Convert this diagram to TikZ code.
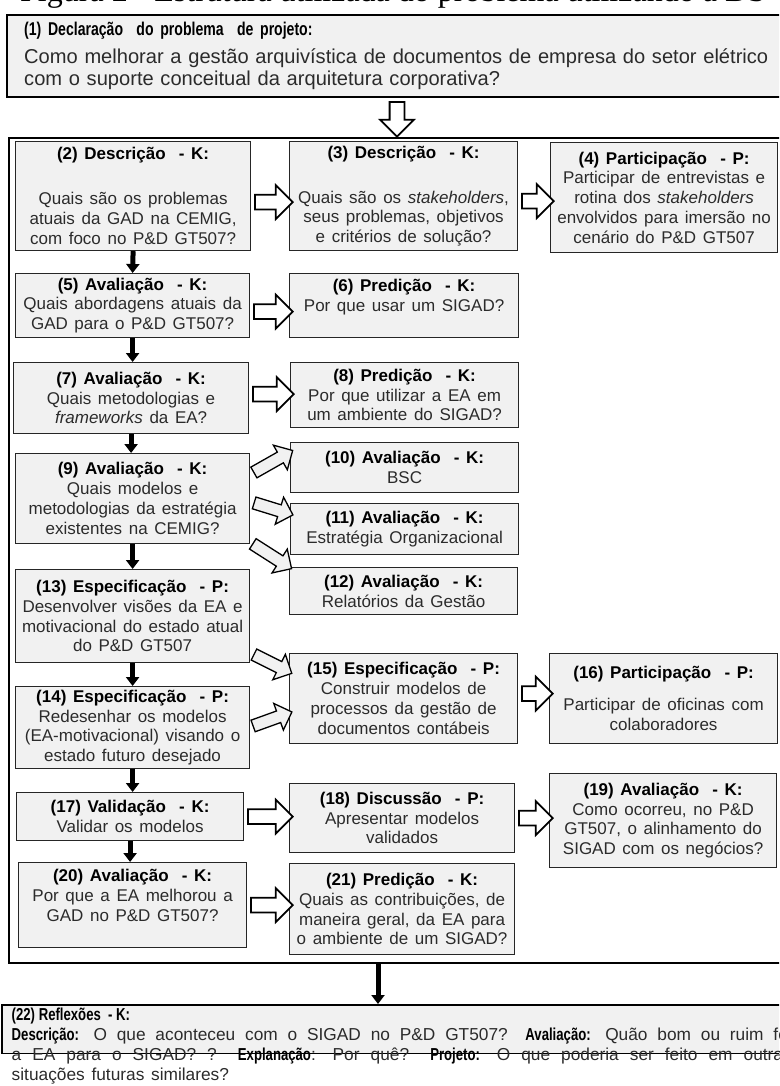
\documentclass[tikz,border=0pt]{standalone}
\usepackage{fontspec}
\setmainfont{Liberation Sans}[WordSpace=1.4]
\newfontfamily\narrowsans{Liberation Sans}[FakeStretch=0.76]
\newfontfamily\captionserif{Liberation Serif}
\usetikzlibrary{shapes.arrows,arrows.meta,calc}

\definecolor{boxfill}{HTML}{F1F1F1}
\definecolor{bodytext}{HTML}{2B2B2B}

\newcommand{\steptitle}[1]{{\bfseries\color{black}#1}}
\newcommand{\narrowbold}[1]{{\narrowsans\bfseries\color{black}#1}}
\newcommand{\blockarrow}[3][]{%
  \path let \p1=#2, \p2=#3,
    \n1={atan2(\y2-\y1,\x2-\x1)}, \n2={veclen(\x2-\x1,\y2-\y1)} in
    node[hollowarrow,#1,rotate=\n1,minimum height=\n2] at ($#2!0.5!#3$) {};}

\tikzset{
  stepbox/.style={draw=black!85, line width=1.2pt, fill=boxfill, anchor=north west,
    align=center, inner xsep=2pt, inner ysep=2pt, text=bodytext,
    font=\fontsize{17pt}{19.8pt}\selectfont},
  bigbox/.style={draw=black, line width=2.4pt, fill=boxfill, anchor=north west,
    text=bodytext, font=\fontsize{20.1pt}{22pt}\selectfont},
  outerframe/.style={draw=black, line width=2.4pt, anchor=north west},
  hollowarrow/.style={single arrow, draw=black, line width=1.8pt, fill=white,
    inner sep=6.5pt, single arrow head extend=9.5pt, minimum width=0pt},
  diagarrow/.style={fill=boxfill, line width=1.3pt, inner sep=5.5pt,
    single arrow head extend=8pt},
  flowarrow/.style={line width=5pt, -{Triangle[length=9pt,width=13pt]}}
}

\begin{document}
\begin{tikzpicture}[x=1pt,y=-1pt]
\useasboundingbox (0,0) rectangle (779,1086);
\clip (0,0) rectangle (779,1086);

% caption, cut at the top
\node[anchor=base west, inner sep=0pt, font=\captionserif\fontsize{32pt}{32pt}\selectfont]
  (caption) at (20,2) {Figura 2 - Estrutura utilizada do problema utilizando a DS};

% problem statement
\node[bigbox, minimum width=800pt, minimum height=82pt, text width=766pt, align=left,
  inner xsep=17pt] (b1) at (6,14)
  {{\fontsize{18.5pt}{22pt}\selectfont\narrowbold{(1) Declaração~ do problema~ de projeto:}}\\[6pt]
   Como melhorar a gestão arquivística de documentos de empresa do setor elétrico\\
   com o suporte conceitual da arquitetura corporativa?};

\node[outerframe, minimum width=790pt, minimum height=825pt] (outer) at (8,137) {};

% first column
\node[stepbox, minimum width=235pt, minimum height=109pt] (b2) at (15,141)
  {\steptitle{(2) Descrição~ - K:}\\[25pt] Quais são os problemas\\ atuais da GAD na CEMIG,\\ com foco no P\&D GT507?};
\node[stepbox, minimum width=234pt, minimum height=64pt] (b5) at (15,273)
  {\steptitle{(5) Avaliação~ - K:}\\ Quais abordagens atuais da\\ GAD para o P\&D GT507?};
\node[stepbox, minimum width=235pt, minimum height=71pt] (b7) at (13,362)
  {\steptitle{(7) Avaliação~ - K:}\\ Quais metodologias e\\ \textit{frameworks} da EA?};
\node[stepbox, minimum width=234pt, minimum height=90pt] (b9) at (15,453)
  {\steptitle{(9) Avaliação~ - K:}\\ Quais modelos e\\ metodologias da estratégia\\ existentes na CEMIG?};
\node[stepbox, minimum width=234pt, minimum height=93pt] (b13) at (15,569)
  {\steptitle{(13) Especificação~ - P:}\\ Desenvolver visões da EA e\\ motivacional do estado atual\\ do P\&D GT507};
\node[stepbox, minimum width=234pt, minimum height=82pt] (b14) at (15,686)
  {\steptitle{(14) Especificação~ - P:}\\ Redesenhar os modelos\\ (EA-motivacional) visando o\\ estado futuro desejado};
\node[stepbox, minimum width=227pt, minimum height=48pt] (b17) at (16,792)
  {\steptitle{(17) Validação~ - K:}\\ Validar os modelos};
\node[stepbox, minimum width=228pt, minimum height=85pt] (b20) at (18,862)
  {\steptitle{(20) Avaliação~ - K:}\\ Por que a EA melhorou a\\ GAD no P\&D GT507?\\ \mbox{}};

% second column
\node[stepbox, minimum width=228pt, minimum height=109pt] (b3) at (289,141)
  {\steptitle{(3) Descrição~ - K:}\\[25pt] Quais são os \textit{stakeholders},\\ seus problemas, objetivos\\ e critérios de solução?};
\node[stepbox, minimum width=229pt, minimum height=64pt] (b6) at (289,273)
  {\steptitle{(6) Predição~ - K:}\\ Por que usar um SIGAD?\\ \mbox{}};
\node[stepbox, minimum width=228pt, minimum height=65pt] (b8) at (290,362)
  {\steptitle{(8) Predição~ - K:}\\ Por que utilizar a EA em\\ um ambiente do SIGAD?};
\node[stepbox, minimum width=228pt, minimum height=50pt] (b10) at (290,442)
  {\steptitle{(10) Avaliação~ - K:}\\ BSC};
\node[stepbox, minimum width=228pt, minimum height=51pt] (b11) at (290,503)
  {\steptitle{(11) Avaliação~ - K:}\\ Estratégia Organizacional};
\node[stepbox, minimum width=228pt, minimum height=47pt] (b12) at (289,567)
  {\steptitle{(12) Avaliação~ - K:}\\ Relatórios da Gestão};
\node[stepbox, minimum width=228pt, minimum height=90pt] (b15) at (289,653)
  {\steptitle{(15) Especificação~ - P:}\\ Construir modelos de\\ processos da gestão de\\ documentos contábeis};
\node[stepbox, minimum width=225pt, minimum height=69pt] (b18) at (289,783)
  {\steptitle{(18) Discussão~ - P:}\\ Apresentar modelos\\ validados};
\node[stepbox, minimum width=225pt, minimum height=91pt] (b21) at (289,863)
  {\steptitle{(21) Predição~ - K:}\\ Quais as contribuições, de\\ maneira geral, da EA para\\ o ambiente de um SIGAD?};

% third column
\node[stepbox, minimum width=227pt, minimum height=110pt] (b4) at (550,142)
  {\steptitle{(4) Participação~ - P:}\\ Participar de entrevistas e\\ rotina dos \textit{stakeholders}\\ envolvidos para imersão no\\ cenário do P\&D GT507};
\node[stepbox, minimum width=228pt, minimum height=90pt] (b16) at (549,653)
  {\steptitle{(16) Participação~ - P:}\\[12pt] Participar de oficinas com\\ colaboradores};
\node[stepbox, minimum width=227pt, minimum height=94pt] (b19) at (549,773)
  {\steptitle{(19) Avaliação~ - K:}\\ Como ocorreu, no P\&D\\ GT507, o alinhamento do\\ SIGAD com os negócios?};

% reflections
\node[bigbox, line width=1.5pt, minimum width=800pt, text width=780pt, align=justify,
  inner xsep=1.5pt, inner ysep=3pt, text depth=30pt,
  font=\fontsize{17.3pt}{20pt}\selectfont] (b22) at (1,1004)
  {\narrowbold{(22) Reflexões~ - K:}\\
   \narrowbold{Descrição:} O que aconteceu com o SIGAD no P\&D GT507? \narrowbold{Avaliação:} Quão bom ou ruim foi\linebreak
   a EA para o SIGAD? ? \narrowbold{Explanação}: Por quê? \narrowbold{Projeto:} O que poderia ser feito em outras\linebreak
   situações futuras similares?};

% arrow ends
\coordinate (mid) at (397,0);
\coordinate (a1) at (b1.south -| mid);
\coordinate (a1t) at ($(outer.north -| mid)+(0,-4)$);
\coordinate (a23) at ($(b2.east)+(0,6)$);
\coordinate (a23t) at (a23 -| b3.west);
\coordinate (a34) at ($(b3.east)+(0,5)$);
\coordinate (a34t) at (a34 -| b4.west);
\coordinate (a56) at ($(b5.east)+(0,6)$);
\coordinate (a56t) at (a56 -| b6.west);
\coordinate (a78) at ($(b7.east)+(0,-4)$);
\coordinate (a78t) at (a78 -| b8.west);
\coordinate (a910) at ($(b9.north east)+(1,21)$);
\coordinate (a910t) at ($(b10.north west)+(0,10)$);
\coordinate (a911) at ($(b9.north east)+(1,49)$);
\coordinate (a911t) at ($(b11.north west)+(0,11)$);
\coordinate (a912) at ($(b9.south east)+(0,-2)$);
\coordinate (a912t) at (b12.north west);
\coordinate (a1315) at ($(b13.south east)+(1,-10)$);
\coordinate (a1315t) at ($(b15.north west)+(0,19)$);
\coordinate (a1415) at ($(b14.north east)+(0,41)$);
\coordinate (a1415t) at ($(b15.north west)+(0,60)$);
\coordinate (a1516) at ($(b15.east)+(0,-5)$);
\coordinate (a1516t) at (a1516 -| b16.west);
\coordinate (a1718) at (b17.east);
\coordinate (a1718t) at (a1718 -| b18.west);
\coordinate (a1819) at (b18.east);
\coordinate (a1819t) at (a1819 -| b19.west);
\coordinate (a2021) at (b20.east);
\coordinate (a2021t) at (a2021 -| b21.west);
\coordinate (down) at (378,0);

% hollow arrows
\blockarrow{(a1)}{(a1t)}
\blockarrow{(a23)}{(a23t)}
\blockarrow{(a34)}{(a34t)}
\blockarrow{(a56)}{(a56t)}
\blockarrow{(a78)}{(a78t)}
\blockarrow[diagarrow]{(a910)}{(a910t)}
\blockarrow[diagarrow]{(a911)}{(a911t)}
\blockarrow[diagarrow]{(a912)}{(a912t)}
\blockarrow[diagarrow]{(a1315)}{(a1315t)}
\blockarrow[diagarrow]{(a1415)}{(a1415t)}
\blockarrow{(a1516)}{(a1516t)}
\blockarrow{(a1718)}{(a1718t)}
\blockarrow{(a1819)}{(a1819t)}
\blockarrow{(a2021)}{(a2021t)}

% solid arrows
\draw[flowarrow] (b2.south) -- (b5.north);
\draw[flowarrow] (b5.south) -- (b5.south |- b7.north);
\draw[flowarrow] (b7.south) -- (b7.south |- b9.north);
\draw[flowarrow] (b9.south) -- (b9.south |- b13.north);
\draw[flowarrow] (b13.south) -- (b14.north);
\draw[flowarrow] (b14.south) -- (b14.south |- b17.north);
\draw[flowarrow] (b17.south) -- (b17.south |- b20.north);
\draw[flowarrow] (outer.south -| down) -- (b22.north -| down);
\end{tikzpicture}
\end{document}
